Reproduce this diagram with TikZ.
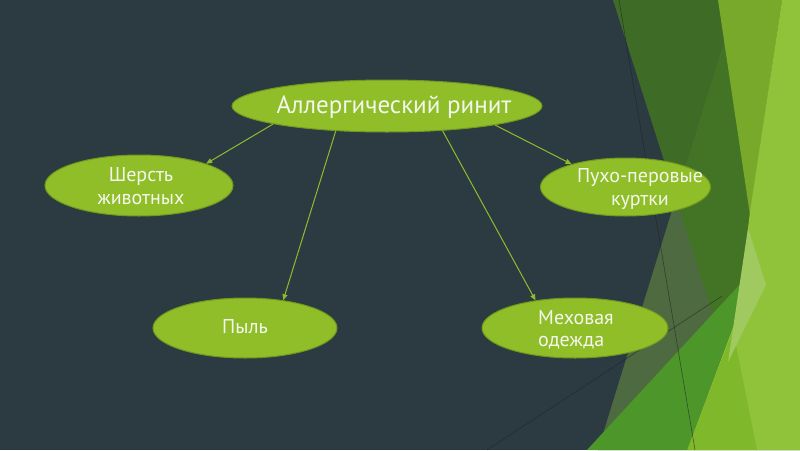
\documentclass[tikz,border=0pt]{standalone}
\usepackage{fontspec}
\setmainfont{PT Sans}
\usetikzlibrary{arrows.meta,shapes.geometric}
\definecolor{slate}{RGB}{44,58,66}
\definecolor{facetgray}{RGB}{77,106,64}
\definecolor{facetdark}{RGB}{66,119,32}
\definecolor{facetolive}{RGB}{120,169,42}
\definecolor{facetbright}{RGB}{145,195,58}
\definecolor{facetlow}{RGB}{128,184,44}
\definecolor{facetmid}{RGB}{76,150,42}
\definecolor{facetpale}{RGB}{160,201,96}
\definecolor{bubblefill}{RGB}{143,190,40}
\definecolor{bubbleedge}{RGB}{112,152,30}
\definecolor{conncol}{RGB}{141,189,47}
\definecolor{txtcol}{RGB}{244,247,238}
\tikzset{
  bubble/.style={ellipse, fill=bubblefill, draw=bubbleedge, line width=1pt, inner sep=0pt},
  txt/.style={text=txtcol, font=\fontsize{20}{22.5}\selectfont, inner sep=0pt},
  titletxt/.style={text=txtcol, font=\fontsize{25}{27}\selectfont, inner sep=0pt},
  conn/.style={draw=conncol, line width=1pt, -{Triangle[length=6pt,width=5pt]}},
  thinline/.style={draw={rgb,255:red,28;green,36;blue,34}, opacity=0.6, line width=0.6pt}
}
\begin{document}
\begin{tikzpicture}[x=1pt,y=-1pt]
\useasboundingbox (0,0) rectangle (800,450);
\fill[slate] (0,0) rectangle (800,450);
% facet background
\fill[facetgray] (737,0) -- (800,0) -- (800,450) -- (598,450) -- cycle;
\fill[facetdark, opacity=0.82] (613,0) -- (800,0) -- (800,450) -- (756,450) -- cycle;
\fill[facetolive] (718,0) -- (782,0) -- (750,215) -- cycle;
\fill[facetbright] (782,0) -- (800,0) -- (800,450) -- (687,450) -- (755,268) -- (748,228) -- (750,212) -- cycle;
\draw[thinline] (487,450) -- (722,296);
\fill[facetlow] (687,450) -- (733,330) -- (757,450) -- cycle;
\fill[facetmid] (587,450) -- (755,268) -- (687,450) -- cycle;
\fill[facetpale] (748,228) -- (766,285) -- (728,362) -- cycle;
\draw[thinline] (619,0) -- (695,450);
% bubbles
\node[bubble, minimum width=310pt, minimum height=52pt] (title) at (387,106) {};
\node[bubble, minimum width=188pt, minimum height=61pt] (wool) at (139,185.5) {};
\node[bubble, minimum width=184pt, minimum height=60pt] (dust) at (245,328) {};
\node[bubble, minimum width=170pt, minimum height=58pt] (down) at (625.5,187) {};
\node[bubble, minimum width=186pt, minimum height=60pt] (fur) at (575,328) {};
% texts
\node[titletxt, anchor=base] (titlet) at (394,113) {Аллергический ринит};
\node[txt, align=center] (woolt) at (141,186) {Шерсть\\животных};
\node[txt, anchor=base] (dustt) at (245,333) {Пыль};
\node[txt, align=center] (downt) at (640,189) {Пухо-перовые\\куртки};
\node[txt, align=left, anchor=west] (furt) at (538,330) {Меховая\\одежда};
% connectors
\draw[conn] (title.189.6) -- (wool.18.8);
\draw[conn] (title.206.6) -- (dust.36.2);
\draw[conn] (title.336.8) -- (fur.145.1);
\draw[conn] (title.350.2) -- (down.157.3);
\end{tikzpicture}
\end{document}
